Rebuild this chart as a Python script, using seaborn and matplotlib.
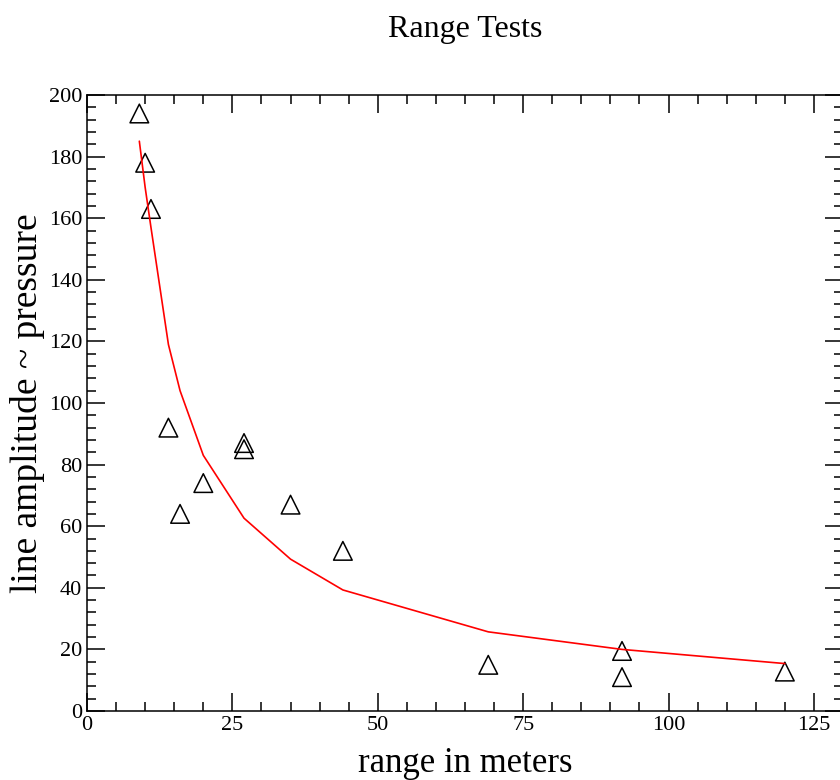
import numpy as np
import pandas as pd
import matplotlib
matplotlib.use("Agg")
import matplotlib.pyplot as plt
from matplotlib.ticker import MultipleLocator
import seaborn as sns

sns.set_style("ticks")
plt.rcParams["font.family"] = ["Liberation Serif", "DejaVu Serif"]
plt.rcParams["text.color"] = "black"
plt.rcParams["axes.labelcolor"] = "black"
plt.rcParams["xtick.color"] = "black"
plt.rcParams["ytick.color"] = "black"

# measured points
range_m = [9, 10, 11, 14, 16, 20, 27, 27, 35, 44, 69, 92, 92, 120]
amplitude = [194, 178, 163, 92, 64, 74, 87, 85, 67, 52, 15, 19.5, 11, 12.8]

# fitted curve (red)
fit_x = [9, 10, 11, 14, 16, 20, 27, 35, 44, 69, 92, 120]
fit_y = [185, 170, 157, 119, 104, 83, 62.6, 49.3, 39.3, 25.7, 20, 15.4]

pts = pd.DataFrame({"range": range_m, "amp": amplitude})
fit = pd.DataFrame({"range": fit_x, "amp": fit_y})

fig = plt.figure(figsize=(8.4, 7.8), dpi=100)
ax = fig.add_axes([87 / 840, 69 / 780, 756 / 840, 616 / 780])

sns.lineplot(data=fit, x="range", y="amp", color="red", linewidth=1.2, ax=ax)
sns.scatterplot(data=pts, x="range", y="amp", marker="^", s=180,
                facecolor="none", edgecolor="black", linewidth=1.1, ax=ax)

ax.set_xlim(0, 130)
ax.set_ylim(0, 200)
ax.xaxis.set_major_locator(MultipleLocator(25))
ax.xaxis.set_minor_locator(MultipleLocator(5))
ax.yaxis.set_major_locator(MultipleLocator(20))
ax.yaxis.set_minor_locator(MultipleLocator(4))
ax.tick_params(which="both", direction="in", top=True, right=True,
               width=1.1, color="black", labelsize=16)
ax.tick_params(which="major", length=13)
ax.tick_params(which="minor", length=6.5)
for sp in ax.spines.values():
    sp.set_visible(True)
    sp.set_linewidth(1.1)
    sp.set_color("black")

ax.set_xlabel("range in meters", fontsize=25, labelpad=9)
ax.set_ylabel("line amplitude ~ pressure", fontsize=27, labelpad=3)
ax.set_title("Range Tests", fontsize=23, pad=42)

fig.savefig("out.png", dpi=100)
